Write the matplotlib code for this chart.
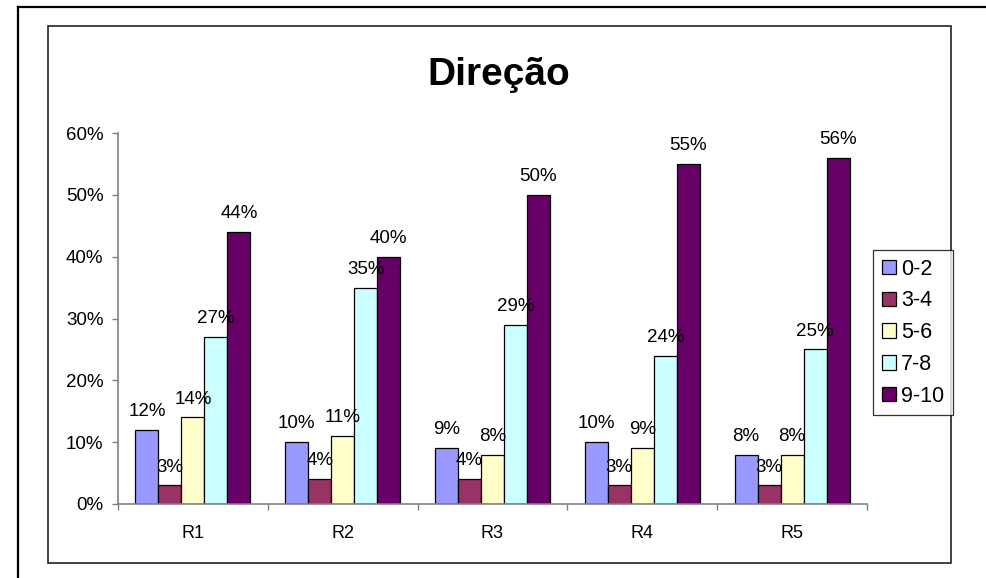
import matplotlib
matplotlib.use('Agg')
import matplotlib.pyplot as plt
import numpy as np
from matplotlib.patches import Rectangle
from matplotlib.lines import Line2D
from matplotlib.ticker import PercentFormatter

plt.rcParams['font.family'] = ['Liberation Sans', 'DejaVu Sans']

# data
regions = ['R1', 'R2', 'R3', 'R4', 'R5']
series = ['0-2', '3-4', '5-6', '7-8', '9-10']
values = {
    '0-2': [12, 10, 9, 10, 8],
    '3-4': [3, 4, 4, 3, 3],
    '5-6': [14, 11, 8, 9, 8],
    '7-8': [27, 35, 29, 24, 25],
    '9-10': [44, 40, 50, 55, 56],
}
colors = ['#9999FF', '#993366', '#FFFFCC', '#CCFFFF', '#660066']

W, H = 986, 578
fig = plt.figure(figsize=(W / 100, H / 100), dpi=100)

# outer frame (runs off the image right / bottom)
fig.add_artist(Line2D([18 / W, 18 / W], [0, 1 - 7 / H], color='black', lw=1.6,
                      transform=fig.transFigure))
fig.add_artist(Line2D([18 / W, 1], [1 - 7 / H, 1 - 7 / H], color='black', lw=1.6,
                      transform=fig.transFigure))
# chart area frame
fig.add_artist(Rectangle((48 / W, 1 - 563 / H), (951 - 48) / W, (563 - 26) / H,
                         fill=False, edgecolor='#222222', lw=1.2,
                         transform=fig.transFigure))

ax = fig.add_axes([118 / W, 1 - 504 / H, (867 - 118) / W, (504 - 133) / H])

x = np.arange(len(regions))
bw = 23 / 150
for i, (s, c) in enumerate(zip(series, colors)):
    vals = np.array(values[s]) / 100
    pos = x + (i - 2) * bw
    ax.bar(pos, vals, width=bw, color=c, edgecolor='black', lw=0.9, label=s)
    for p, v in zip(pos, vals):
        ax.annotate(f'{int(round(v * 100))}%', (p, v), xytext=(0, 10),
                    textcoords='offset points', ha='center', va='baseline',
                    fontsize=13.5)

ax.set_xlim(-0.5, len(regions) - 0.5)
ax.set_ylim(0, 0.6)
ax.set_yticks(np.arange(0, 0.61, 0.1))
ax.yaxis.set_major_formatter(PercentFormatter(1.0, decimals=0))
ax.set_xticks(x)
ax.set_xticklabels(regions)
ax.set_xticks(np.arange(-0.5, len(regions)), minor=True)
ax.tick_params(axis='x', which='major', length=0, pad=15, labelsize=13)
ax.tick_params(axis='x', which='minor', length=4.5, width=1, color='#808080',
               direction='out')
ax.tick_params(axis='y', length=4.5, width=1, color='#808080', pad=6,
               labelsize=13.5)
for sp in ['top', 'right']:
    ax.spines[sp].set_visible(False)
for sp in ['left', 'bottom']:
    ax.spines[sp].set_color('#808080')
    ax.spines[sp].set_linewidth(1.2)

fig.text(499 / W, 1 - 85 / H, 'Direção', ha='center', va='baseline',
         fontsize=28, fontweight='bold')

leg = fig.legend(loc='upper left', bbox_to_anchor=(873 / W, 1 - 250 / H),
                 bbox_transform=fig.transFigure, fontsize=15.5, frameon=True,
                 fancybox=False, edgecolor='black', handlelength=0.65,
                 handleheight=0.65, handletextpad=0.25, labelspacing=0.5,
                 borderpad=0.4, borderaxespad=0)
leg.get_frame().set_linewidth(0.9)

fig.savefig('out.png', dpi=100)
